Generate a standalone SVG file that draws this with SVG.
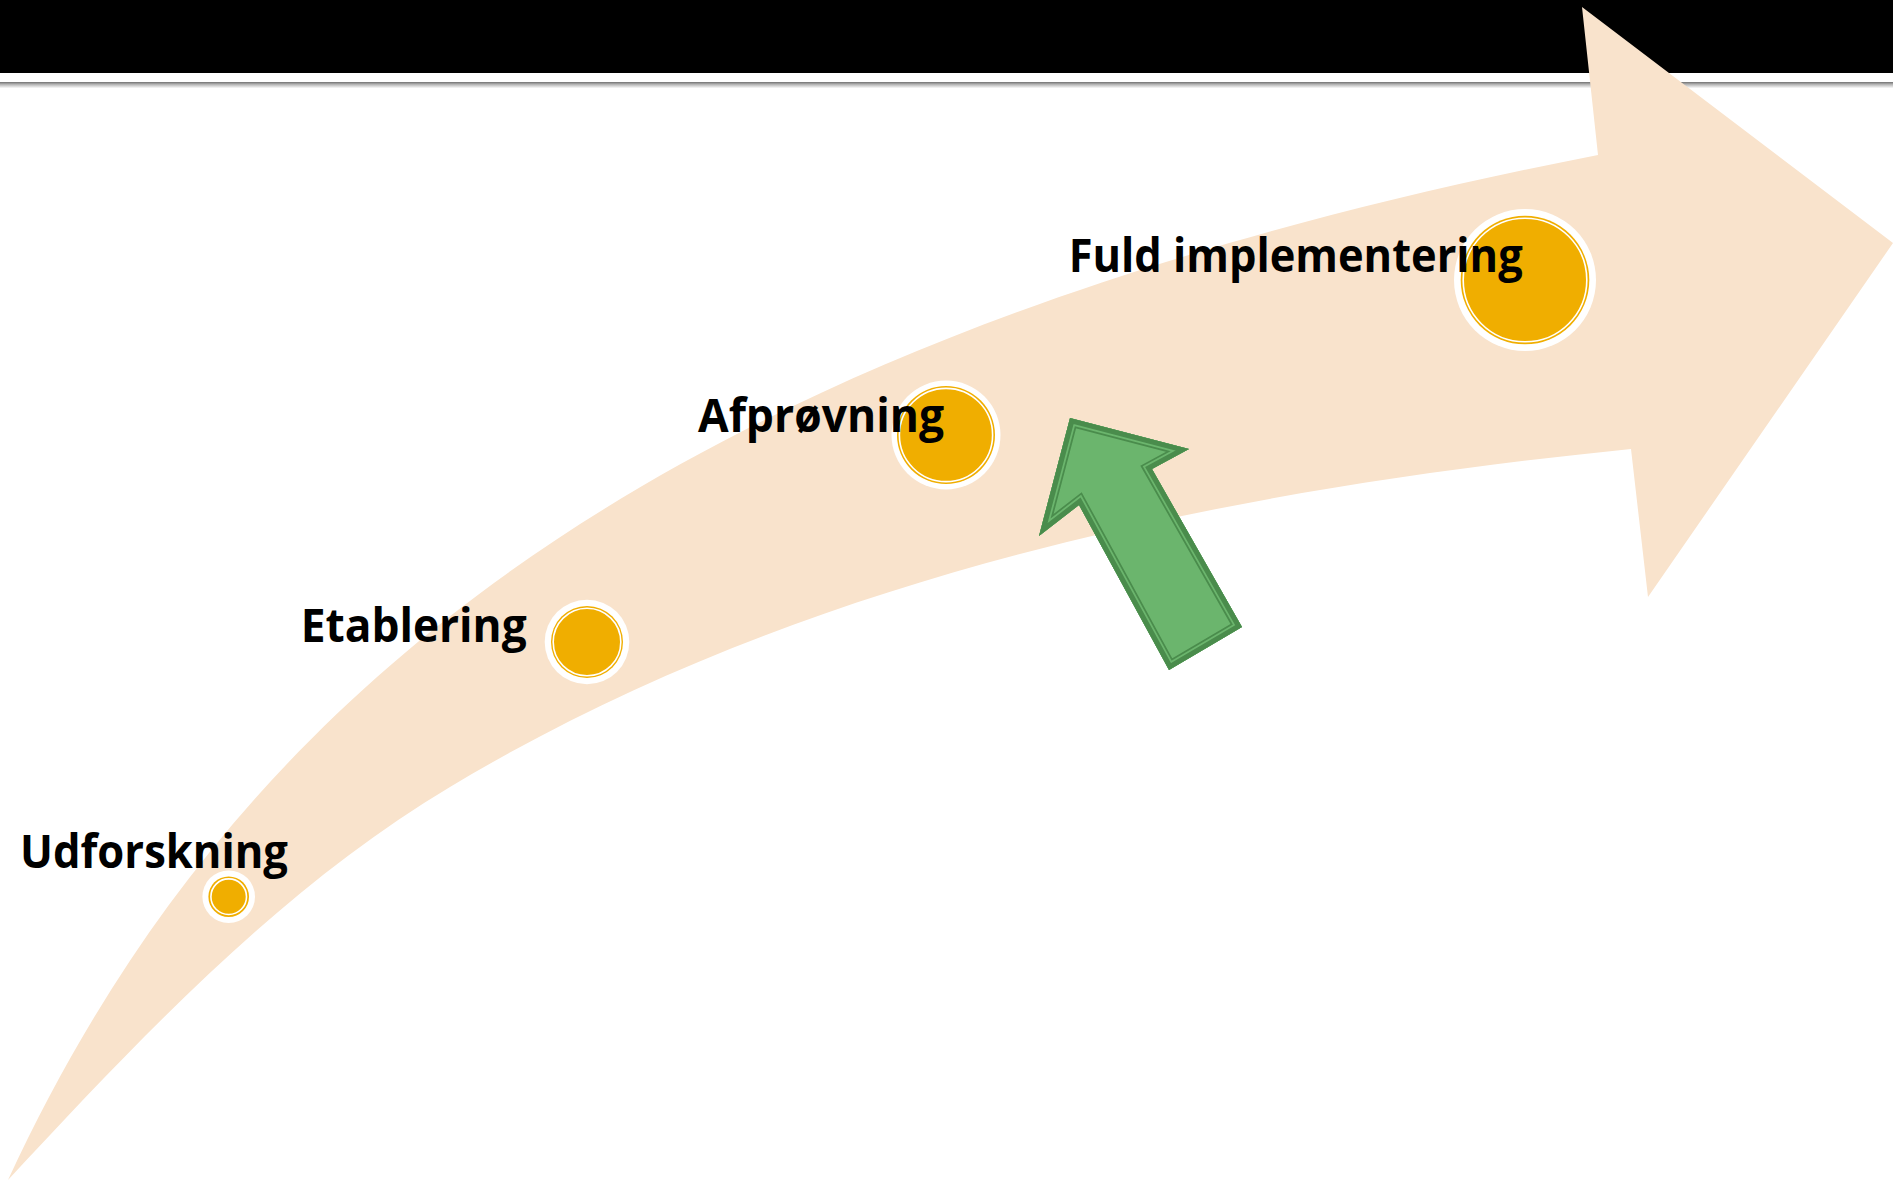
<svg xmlns="http://www.w3.org/2000/svg" xmlns:xlink="http://www.w3.org/1999/xlink" width="1893" height="1182" viewBox="0 0 1893 1182">
  <style>
    .lbl { font-family: "Open Sans", "Noto Sans", "DejaVu Sans", sans-serif; font-weight: 700; font-size: 46px; fill: #000000; }
    .halo { fill: #FFFFFF; }
    .gold { fill: #F0AE00; }
    .ring { fill: none; stroke: #FFFFFF; stroke-width: 1.6; }
  </style>
  <defs>
    <linearGradient id="shadow" x1="0" y1="0" x2="0" y2="1">
      <stop offset="0" stop-color="#A8A8A8"/>
      <stop offset="1" stop-color="#FFFFFF"/>
    </linearGradient>
    <polygon id="ga" points="1070,418 1189,449 1152,469 1242,627 1169,670 1079,505 1039,536"/>
    <clipPath id="gaclip">
      <use xlink:href="#ga"/>
    </clipPath>
  </defs>

  <rect x="0" y="0" width="1893" height="1182" fill="#FFFFFF"/>

  <g id="header">
    <rect x="0" y="0" width="1893" height="73" fill="#000000"/>
    <rect x="0" y="82" width="1893" height="1.8" fill="#7F7F7F"/>
    <rect x="0" y="83.8" width="1893" height="4.5" fill="url(#shadow)"/>
  </g>

  <g id="big-arrow">
    <path d="M 8 1180 C 230 700 650 340 1598 155 L 1582 7 L 1893 243 L 1648 597 L 1631 449 C 1223 490 801 576 450 787 C 281 888 142 1036 8 1180 Z" fill="#F9E3CC"/>
  </g>

  <g id="green-arrow">
    <use xlink:href="#ga" fill="#6BB56D"/>
    <g clip-path="url(#gaclip)" fill="none" stroke-miterlimit="10">
      <use xlink:href="#ga" stroke="#4A8C4C" stroke-width="17"/>
      <use xlink:href="#ga" stroke="#6BB56D" stroke-width="13.5"/>
      <use xlink:href="#ga" stroke="#4A8C4C" stroke-width="10"/>
    </g>
  </g>

  <g id="node-udforskning">
    <circle class="halo" cx="228.7" cy="896.7" r="26.3"/>
    <circle class="gold" cx="228.7" cy="896.7" r="20.3"/>
    <circle class="ring" cx="228.7" cy="896.7" r="17.8"/>
    <text class="lbl" x="20" y="868.3" textLength="268" lengthAdjust="spacingAndGlyphs">Udforskning</text>
  </g>

  <g id="node-etablering">
    <circle class="halo" cx="587" cy="642" r="42.3"/>
    <circle class="gold" cx="587" cy="642" r="36"/>
    <circle class="ring" cx="587" cy="642" r="33.8"/>
    <text class="lbl" x="300.7" y="641.7" textLength="226" lengthAdjust="spacingAndGlyphs">Etablering</text>
  </g>

  <g id="node-afproevning">
    <circle class="halo" cx="946" cy="435" r="54.5"/>
    <circle class="gold" cx="946" cy="435" r="49"/>
    <circle class="ring" cx="946" cy="435" r="46.6"/>
    <text class="lbl" x="698" y="431.7" textLength="246" lengthAdjust="spacingAndGlyphs">Afprøvning</text>
  </g>

  <g id="node-fuld-implementering">
    <circle class="halo" cx="1525" cy="280" r="71"/>
    <circle class="gold" cx="1525" cy="280" r="64.3"/>
    <circle class="ring" cx="1525" cy="280" r="61.8"/>
    <text class="lbl" x="1068.7" y="271.7" textLength="454" lengthAdjust="spacingAndGlyphs">Fuld implementering</text>
  </g>

  <g id="connectors"></g>
</svg>
